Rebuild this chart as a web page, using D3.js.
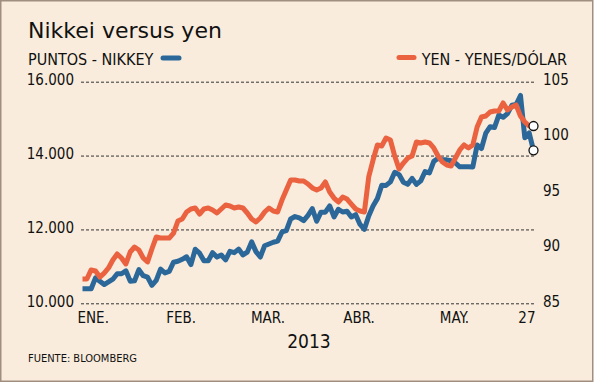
<!DOCTYPE html>
<html>
<head>
<meta charset="utf-8">
<script src="https://cdn.jsdelivr.net/npm/d3@7"></script>
<style>
    body { margin: 0; background: #fff; }
    #chart-area { width: 594px; height: 383px; }
</style>
</head>
<body>
<div id="chart-area"></div>
<script>

// weekdays from 1 Jan to 27 May 2013 (holidays keep the previous close)
let nikkei = [
    10395, 10395, 10395, 10688, 10599, 10508, 10578, 10652, 10801, 10801,
    10879, 10600, 10609, 10913, 10747, 10709, 10487, 10620, 10926, 10824,
    10866, 11113, 11138,
    11191, 11260, 11047, 11464, 11357, 11153, 11153, 11369, 11251, 11307,
    11174, 11408, 11372, 11468, 11309, 11386, 11663, 11399, 11254, 11559,
    11606, 11652, 11683, 11932, 11968, 12284, 12349, 12315, 12240, 12381,
    12561, 12221, 12468, 12468, 12636, 12339, 12546, 12472, 12494, 12336, 12398,
    12135, 12003, 12362, 12635, 12834, 13193, 13192, 13288, 13549, 13485,
    13276, 13221, 13383, 13220, 13316, 13568, 13530, 13843, 13926, 13884,
    13884, 13861,
    13799, 13694, 13694, 13694, 13692, 14286, 14191, 14608, 14782, 14758,
    15096, 15037, 15138, 15361, 15381, 15627, 14484, 14612, 14143
];

let yen = [
    87.19, 87.19, 88.01, 87.92, 87.37, 87.73, 88.19, 88.91, 89.45, 89.09,
    88.55, 89.63, 90.08, 89.81, 89.09, 88.73, 89.90, 90.98, 90.89, 90.89,
    90.89, 91.34, 92.43,
    92.61, 93.24, 93.51, 93.60, 93.06, 93.51, 93.60, 93.42, 93.15, 93.51,
    93.87, 93.78, 93.60, 93.69, 93.60, 93.15, 92.61, 92.34, 92.70, 93.24,
    93.60, 93.33, 93.24, 94.32, 95.23, 96.13, 96.13, 96.04, 96.04, 95.77,
    95.41, 95.23, 95.41, 95.95, 95.05, 94.50, 94.14, 94.59, 94.41, 93.96, 93.51,
    93.33, 93.24, 96.40, 97.93, 99.29, 99.20, 99.92, 99.74, 98.29, 97.12,
    97.66, 98.11, 98.29, 99.56, 99.47, 99.56, 99.47, 99.02, 98.29, 97.75,
    97.48, 97.39,
    98.11, 98.84, 99.29, 99.02, 99.29, 100.91, 101.81, 101.90, 102.27, 102.36,
    102.36, 103.08, 102.45, 102.72, 102.90, 101.90, 101.36, 101.00, 101.00
];

let monthLabels = ["ENE.", "FEB.", "MAR.", "ABR.", "MAY.", "27"];
let monthIndex = [0, 23, 43, 64, 86, 104];

let leftTicks = [10000, 12000, 14000, 16000];
let rightTicks = [85, 90, 95, 100, 105];

let title = "Nikkei versus yen";
let leftLegend = "PUNTOS - NIKKEY";
let rightLegend = "YEN - YENES/DÓLAR";
let yearLabel = "2013";
let source = "FUENTE: BLOOMBERG";


class NikkeiChart {

    constructor(parentElement) {
        this.parentElement = parentElement;
        this.initVis();
    }

    initVis() {
        let vis = this;
        vis.width = 594;
        vis.height = 383;
        vis.blue = "#2b6899";
        vis.orange = "#ea6240";
        vis.font = "'DejaVu Sans Condensed', 'DejaVu Sans', sans-serif";

        vis.svg = d3.select("#" + vis.parentElement).append("svg")
            .attr("width", vis.width)
            .attr("height", vis.height);

        vis.svg.append("rect")
            .attr("x", 0.75).attr("y", 0.75)
            .attr("width", vis.width - 2).attr("height", vis.height - 2.5)
            .attr("fill", "#f9ecdc")
            .attr("stroke", "#a08f80")
            .attr("stroke-width", 1.5);

        vis.xScale = d3.scaleLinear()
            .domain([0, nikkei.length - 1])
            .range([82.5, 533.5]);

        vis.yLeft = d3.scaleLinear()
            .domain([10000, 16000])
            .range([303.3, 81.7]);

        vis.yRight = d3.scaleLinear()
            .domain([85, 105])
            .range([303.3, 81.7]);

        vis.wrangleData();
    }

    wrangleData() {
        let vis = this;
        vis.nikkeiData = nikkei.map((v, i) => ({i: i, v: v}));
        vis.yenData = yen.map((v, i) => ({i: i, v: v}));
        vis.updateVis();
    }

    updateVis() {
        let vis = this;

        // gridlines + left axis
        let leftAxis = d3.axisLeft(vis.yLeft)
            .tickValues(leftTicks)
            .tickSize(-(536 - 81))
            .tickPadding(7)
            .tickFormat(d => d3.format(",")(d).replace(",", "."));

        let leftG = vis.svg.append("g")
            .attr("class", "axis y-left")
            .attr("transform", "translate(81,0)")
            .call(leftAxis);
        leftG.select(".domain").remove();
        leftG.selectAll(".tick line")
            .attr("stroke", "#333")
            .attr("stroke-width", 1)
            .attr("stroke-dasharray", "3,2");
        leftG.selectAll(".tick text")
            .attr("x", -7)
            .attr("dy", "0.32em")
            .attr("y", -2)
            .attr("fill", "#111")
            .style("font-family", vis.font)
            .style("font-size", "15px");

        // right axis
        let rightAxis = d3.axisRight(vis.yRight)
            .tickValues(rightTicks)
            .tickSize(0)
            .tickPadding(0);

        let rightG = vis.svg.append("g")
            .attr("class", "axis y-right")
            .attr("transform", "translate(543,0)")
            .call(rightAxis);
        rightG.select(".domain").remove();
        rightG.selectAll(".tick text")
            .attr("x", 0)
            .attr("y", -2)
            .attr("fill", "#111")
            .style("font-family", vis.font)
            .style("font-size", "15px");

        // month labels
        vis.svg.append("g")
            .attr("class", "x-labels")
            .selectAll("text")
            .data(monthLabels)
            .enter()
            .append("text")
            .attr("x", (d, i) => vis.xScale(monthIndex[i]))
            .attr("dx", (d, i) => i === 0 ? -5 : (i === monthLabels.length - 1 ? 2 : -1))
            .attr("y", 323)
            .attr("text-anchor", (d, i) => i === 0 ? "start" : (i === monthLabels.length - 1 ? "end" : "middle"))
            .attr("fill", "#111")
            .style("font-family", vis.font)
            .style("font-size", "15px")
            .text(d => d);

        // lines
        let nikkeiLine = d3.line()
            .x(d => vis.xScale(d.i))
            .y(d => vis.yLeft(d.v));

        let yenLine = d3.line()
            .x(d => vis.xScale(d.i))
            .y(d => vis.yRight(d.v));

        vis.svg.append("path")
            .datum(vis.nikkeiData)
            .attr("fill", "none")
            .attr("stroke", vis.blue)
            .attr("stroke-width", 5)
            .attr("stroke-linejoin", "round")
            .attr("d", nikkeiLine);

        vis.svg.append("path")
            .datum(vis.yenData)
            .attr("fill", "none")
            .attr("stroke", vis.orange)
            .attr("stroke-width", 5)
            .attr("stroke-linejoin", "round")
            .attr("d", yenLine);

        // end markers
        let lastN = vis.nikkeiData[vis.nikkeiData.length - 1];
        let lastY = vis.yenData[vis.yenData.length - 1];
        vis.svg.append("circle")
            .attr("cx", vis.xScale(lastY.i)).attr("cy", vis.yRight(lastY.v))
            .attr("r", 4.5).attr("fill", "#fff").attr("stroke", "#111").attr("stroke-width", 1.3);
        vis.svg.append("circle")
            .attr("cx", vis.xScale(lastN.i)).attr("cy", vis.yLeft(lastN.v))
            .attr("r", 4.5).attr("fill", "#fff").attr("stroke", "#111").attr("stroke-width", 1.3);

        // title, legend, notes
        vis.svg.append("text")
            .attr("x", 28).attr("y", 38)
            .attr("fill", "#111")
            .style("font-family", "'DejaVu Sans', sans-serif")
            .style("font-size", "22px")
            .text(title);

        vis.svg.append("text")
            .attr("x", 28).attr("y", 65)
            .attr("fill", "#111")
            .style("font-family", vis.font)
            .style("font-size", "16px")
            .text(leftLegend);

        vis.svg.append("line")
            .attr("x1", 163).attr("x2", 179)
            .attr("y1", 58).attr("y2", 58)
            .attr("stroke", vis.blue)
            .attr("stroke-width", 5)
            .attr("stroke-linecap", "round");

        vis.svg.append("line")
            .attr("x1", 399).attr("x2", 414)
            .attr("y1", 57.5).attr("y2", 57.5)
            .attr("stroke", vis.orange)
            .attr("stroke-width", 5)
            .attr("stroke-linecap", "round");

        vis.svg.append("text")
            .attr("x", 567).attr("y", 65)
            .attr("text-anchor", "end")
            .attr("fill", "#111")
            .style("font-family", vis.font)
            .style("font-size", "16px")
            .text(rightLegend);

        vis.svg.append("text")
            .attr("x", 309).attr("y", 348)
            .attr("text-anchor", "middle")
            .attr("fill", "#111")
            .style("font-family", vis.font)
            .style("font-size", "19px")
            .text(yearLabel);

        vis.svg.append("text")
            .attr("x", 28).attr("y", 362)
            .attr("fill", "#111")
            .style("font-family", vis.font)
            .style("font-size", "11px")
            .text(source);
    }
}

new NikkeiChart("chart-area");

</script>
</body>
</html>
